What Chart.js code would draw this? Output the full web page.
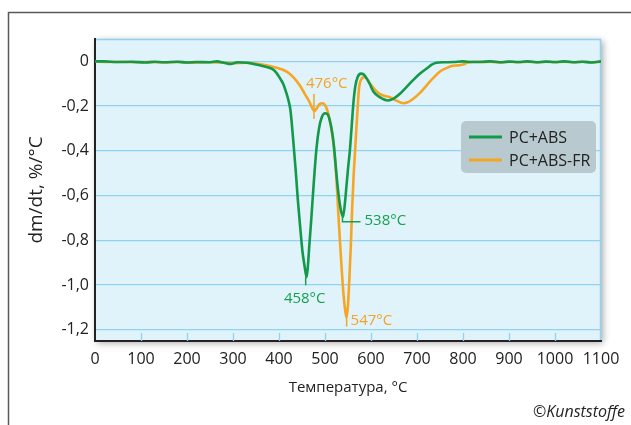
<!DOCTYPE html>
<html><head><meta charset="utf-8">
<script src="https://cdn.jsdelivr.net/npm/chart.js@4/dist/chart.umd.min.js"></script>
<style>html,body{margin:0;padding:0;background:#fff;}canvas{display:block;}</style>
</head><body>
<canvas id="c" width="631" height="425"></canvas>
<script>
// ---------- DATA ----------
const SERIES_NAMES = ['PC+ABS', 'PC+ABS-FR'];

const TEMP_PCABS = [0,20,50,80,110,130,150,180,200,220,250,265,280,295,310,330,345,360,375,385,394,402,409,415,420,425,430,436,441,446,451,456,460,463,466,470,475,481,487,493,500,505,510,515,519,523,527,531,535,539,543,547,550,554,558,562,566,571,578,584,590,597,605,619,637,650,663,677,691,706,721,732,742,760,780,800,820,840,860,880,900,920,940,960,980,1000,1020,1040,1060,1080,1100];
const DMDT_PCABS = [0,0,-0.003,-0.002,-0.005,-0.002,-0.004,-0.002,-0.005,-0.003,-0.004,0,-0.006,-0.012,-0.004,-0.006,-0.012,-0.018,-0.026,-0.034,-0.05,-0.075,-0.10,-0.135,-0.17,-0.22,-0.33,-0.48,-0.62,-0.74,-0.85,-0.92,-0.965,-0.91,-0.82,-0.71,-0.56,-0.40,-0.30,-0.25,-0.232,-0.235,-0.26,-0.31,-0.37,-0.46,-0.55,-0.62,-0.67,-0.695,-0.64,-0.55,-0.48,-0.40,-0.29,-0.18,-0.11,-0.07,-0.055,-0.058,-0.075,-0.10,-0.135,-0.16,-0.175,-0.165,-0.145,-0.115,-0.085,-0.055,-0.032,-0.015,-0.006,-0.004,-0.003,0,-0.003,-0.002,0,-0.004,-0.001,-0.003,0,-0.004,-0.001,-0.003,0,-0.004,-0.002,-0.005,0];

const TEMP_PCABSFR = [0,30,60,90,120,150,180,210,240,270,300,330,355,372,390,402,413,423,433,445,456,467,473,477,482,488,494,500,506,511,516,521,525,529,533,537,541,544,547,550,553,556,559,562,566,570,574,579,586,592,600,610,619,630,641,655,670,680,692,707,721,735,750,764,778,790,800,811,825,840,860,880,900,920,940,960,980,1000,1020,1040,1060,1080,1100];
const DMDT_PCABSFR = [0,-0.003,-0.002,-0.004,-0.003,-0.005,-0.003,-0.006,-0.004,-0.005,-0.008,-0.006,-0.012,-0.018,-0.026,-0.033,-0.042,-0.055,-0.075,-0.107,-0.145,-0.185,-0.212,-0.222,-0.21,-0.192,-0.187,-0.195,-0.225,-0.27,-0.33,-0.42,-0.53,-0.68,-0.82,-0.95,-1.06,-1.115,-1.145,-1.09,-0.97,-0.83,-0.66,-0.52,-0.38,-0.24,-0.12,-0.08,-0.07,-0.08,-0.105,-0.13,-0.145,-0.155,-0.16,-0.175,-0.187,-0.183,-0.167,-0.14,-0.107,-0.075,-0.045,-0.03,-0.02,-0.018,-0.014,-0.005,-0.002,-0.004,-0.002,-0.005,-0.002,-0.004,-0.001,-0.004,-0.002,-0.004,-0.001,-0.004,-0.002,-0.004,-0.002];

const X_TICKS = [0,100,200,300,400,500,600,700,800,900,1000,1100];
const X_TICK_LABELS = ['0','100','200','300','400','500','600','700','800','900','1000','1100'];
const Y_TICKS = [-1.2,-1.0,-0.8,-0.6,-0.4,-0.2,0];
const Y_TICK_LABELS = ['-1,2','-1,0','-0,8','-0,6','-0,4','-0,2','0'];

const PEAK_TEMPS  = [476, 458, 538, 547];
const PEAK_VALUES = [-0.222, -0.965, -0.695, -1.145];
const PEAK_LABELS = ['476°C', '458°C', '538°C', '547°C'];
const PEAK_SERIES = [1, 0, 0, 1];

const X_TITLE = 'Температура, °C';
const Y_TITLE = 'dm/dt, %/°C';
const CREDIT = '©Kunststoffe';

// ---------- STYLE ----------
const COLORS = ['#12994a', '#f6a623'];
const TEXT_COLORS = ['#17a04f', '#f5a326'];
const PLOT_BG = '#e0f2fa';
const GRID = '#8ed3f1';
const FONT = "'Open Sans', 'Noto Sans', sans-serif";
const PEAK_STYLE = ['up', 'down', 'elbow', 'right'];

function toPoints(xs, ys) { return xs.map((x, i) => ({x: x, y: ys[i]})); }
function nearestIndex(arr, v) { let b = 0; arr.forEach((a, i) => { if (Math.abs(a - v) < Math.abs(arr[b] - v)) b = i; }); return b; }

const decor = {
  id: 'decor',
  beforeDraw(chart) {
    const ctx = chart.ctx, a = chart.chartArea;
    ctx.save();
    ctx.strokeStyle = '#5a5a5a'; ctx.lineWidth = 1.5;
    ctx.beginPath(); ctx.moveTo(8.5, 425); ctx.lineTo(8.5, 12.5); ctx.lineTo(631, 12.5); ctx.stroke();
    ctx.shadowColor = 'rgba(0,0,0,0.35)'; ctx.shadowBlur = 7; ctx.shadowOffsetX = 2; ctx.shadowOffsetY = 2;
    ctx.fillStyle = PLOT_BG;
    ctx.fillRect(a.left, a.top, a.right - a.left, a.bottom - a.top);
    ctx.shadowColor = 'transparent';
    ctx.strokeStyle = GRID; ctx.lineWidth = 1.5;
    ctx.beginPath(); ctx.moveTo(a.left, a.top + 0.5); ctx.lineTo(a.right - 0.5, a.top + 0.5); ctx.lineTo(a.right - 0.5, a.bottom); ctx.stroke();
    ctx.restore();
  },
  beforeDatasetsDraw(chart) {
    const ctx = chart.ctx, a = chart.chartArea, xs = chart.scales.x;
    ctx.save();
    ctx.strokeStyle = GRID; ctx.lineWidth = 1.3;
    X_TICKS.forEach(v => {
      if (v === X_TICKS[0] || v === X_TICKS[X_TICKS.length - 1]) return;
      const px = Math.round(xs.getPixelForValue(v)) + 0.5;
      ctx.beginPath(); ctx.moveTo(px, a.bottom - 8); ctx.lineTo(px, a.bottom); ctx.stroke();
    });
    ctx.restore();
  },
  afterDraw(chart) {
    const ctx = chart.ctx, xs = chart.scales.x, ys = chart.scales.y;
    ctx.save();
    // legend
    const lx = 461, ly = 121, lw = 135, lh = 52;
    ctx.fillStyle = '#b9c9d0';
    ctx.beginPath(); ctx.roundRect(lx, ly, lw, lh, 5); ctx.fill();
    ctx.font = '16px ' + FONT; ctx.textBaseline = 'middle'; ctx.textAlign = 'left';
    chart.data.datasets.forEach((d, i) => {
      const y = ly + 16 + i * 23;
      ctx.strokeStyle = d.borderColor; ctx.lineWidth = 3;
      ctx.beginPath(); ctx.moveTo(lx + 8, y); ctx.lineTo(lx + 41, y); ctx.stroke();
      ctx.fillStyle = '#222'; ctx.fillText(d.label, lx + 48, y + 1);
    });
    // peak annotations
    ctx.font = '15px ' + FONT; ctx.lineWidth = 1.5;
    PEAK_TEMPS.forEach((t, i) => {
      const px = xs.getPixelForValue(t), py = ys.getPixelForValue(PEAK_VALUES[i]);
      const col = TEXT_COLORS[PEAK_SERIES[i]];
      ctx.strokeStyle = col; ctx.fillStyle = col; ctx.textBaseline = 'middle';
      const st = PEAK_STYLE[i];
      ctx.beginPath();
      if (st === 'up') {
        ctx.moveTo(px, py - 17); ctx.lineTo(px, py + 8); ctx.stroke();
        ctx.textAlign = 'left'; ctx.fillText(PEAK_LABELS[i], px - 8, py - 27);
      } else if (st === 'down') {
        ctx.moveTo(px, py); ctx.lineTo(px, py + 8); ctx.stroke();
        ctx.textAlign = 'center'; ctx.fillText(PEAK_LABELS[i], px - 1, py + 21);
      } else if (st === 'elbow') {
        ctx.moveTo(px, py - 2); ctx.lineTo(px, py + 5); ctx.lineTo(px + 18, py + 5); ctx.stroke();
        ctx.textAlign = 'left'; ctx.fillText(PEAK_LABELS[i], px + 22, py + 4);
      } else {
        ctx.moveTo(px, py - 2); ctx.lineTo(px, py + 9); ctx.stroke();
        ctx.textAlign = 'left'; ctx.fillText(PEAK_LABELS[i], px + 4, py + 3);
      }
    });
    ctx.font = 'italic 16px ' + FONT; ctx.fillStyle = '#222'; ctx.textAlign = 'right'; ctx.textBaseline = 'middle';
    ctx.fillText(CREDIT, 625, 412);
    ctx.restore();
  }
};

new Chart(document.getElementById('c'), {
  type: 'line',
  data: {
    datasets: [
      { label: SERIES_NAMES[0], data: toPoints(TEMP_PCABS, DMDT_PCABS), borderColor: COLORS[0] },
      { label: SERIES_NAMES[1], data: toPoints(TEMP_PCABSFR, DMDT_PCABSFR), borderColor: COLORS[1] }
    ].map(d => Object.assign(d, { borderWidth: 2.6, pointRadius: 0, fill: false, cubicInterpolationMode: 'monotone' }))
  },
  options: {
    responsive: false, animation: false, devicePixelRatio: 1,
    layout: { padding: { left: 0, right: 30, top: 39, bottom: 0 } },
    plugins: { legend: { display: false }, tooltip: { enabled: false } },
    scales: {
      x: {
        type: 'linear', min: 0, max: 1100,
        afterBuildTicks: s => { s.ticks = X_TICKS.map(v => ({ value: v })); },
        afterFit: s => { s.height = 84; },
        ticks: { font: { family: FONT, size: 16 }, color: '#222', padding: 9, maxRotation: 0, autoSkip: false,
                 callback: (v) => X_TICK_LABELS[nearestIndex(X_TICKS, v)] },
        grid: { display: false, drawTicks: false },
        border: { display: true, color: '#222', width: 2 },
        title: { display: true, text: X_TITLE, color: '#222', font: { family: FONT, size: 15 }, padding: { top: 0, bottom: 28 } }
      },
      y: {
        type: 'linear', min: -1.25, max: 0.1,
        afterBuildTicks: s => { s.ticks = Y_TICKS.map(v => ({ value: v })); },
        afterFit: s => { s.width = 95; },
        ticks: { font: { family: FONT, size: 16 }, color: '#222', padding: 6,
                 callback: (v) => Y_TICK_LABELS[nearestIndex(Y_TICKS, v)] },
        grid: { color: GRID, lineWidth: 1.3, drawTicks: false },
        border: { display: true, color: '#222', width: 2 },
        title: { display: true, text: Y_TITLE, color: '#222', font: { family: FONT, size: 19 }, padding: { top: 25, bottom: 0 } }
      }
    }
  },
  plugins: [decor]
});
</script>
</body></html>
